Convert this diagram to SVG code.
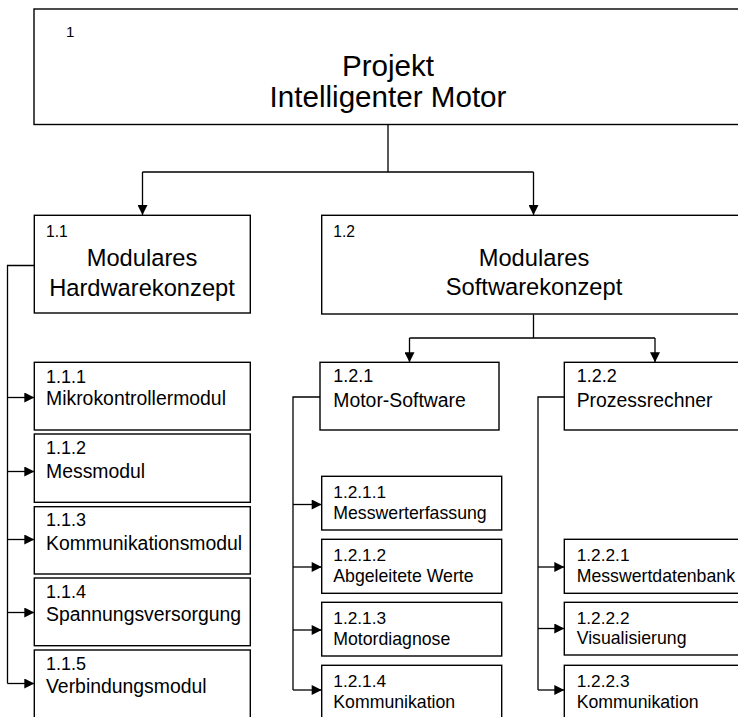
<svg xmlns="http://www.w3.org/2000/svg" width="738" height="717" viewBox="0 0 738 717">
<style>
  .box{fill:#ffffff;stroke:#000000;stroke-width:1.4}
  .ln{fill:none;stroke:#000000;stroke-width:1.3}
  text{font-family:"Liberation Sans",Arial,sans-serif;fill:#000000}
  .t1{font-size:29.6px;text-anchor:middle}
  .n1{font-size:15px}
  .t2{font-size:23.7px;text-anchor:middle}
  .n2{font-size:15.6px}
  .t3{font-size:19.4px}
  .n3{font-size:18px}
  .t4{font-size:17.7px}
  .n4{font-size:17.3px}
</style>
<defs>
  <marker id="arr" viewBox="0 0 10 10" refX="10" refY="5" markerUnits="userSpaceOnUse" markerWidth="11" markerHeight="10" orient="auto">
    <path d="M0,0 L10,5 L0,10 z" fill="#000000"/>
  </marker>
</defs>
<rect width="738" height="717" fill="#ffffff"/>
<g id="connectors">
  <path class="ln" d="M388,124.5 V172 M142.5,172 H533.5"/>
  <path class="ln" d="M142.5,172 V215" marker-end="url(#arr)"/>
  <path class="ln" d="M533.5,172 V215" marker-end="url(#arr)"/>
  <path class="ln" d="M34,265.5 H7.5 V683.5"/>
  <path class="ln" d="M7.5,397.5 H34.3" marker-end="url(#arr)"/>
  <path class="ln" d="M7.5,471.5 H34.3" marker-end="url(#arr)"/>
  <path class="ln" d="M7.5,539.5 H34.3" marker-end="url(#arr)"/>
  <path class="ln" d="M7.5,612.5 H34.3" marker-end="url(#arr)"/>
  <path class="ln" d="M7.5,683.5 H34.3" marker-end="url(#arr)"/>
  <path class="ln" d="M533.5,314.5 V338 M409.5,338 H655"/>
  <path class="ln" d="M409.5,338 V362.3" marker-end="url(#arr)"/>
  <path class="ln" d="M655,338 V362.3" marker-end="url(#arr)"/>
  <path class="ln" d="M320,397 H293 V690"/>
  <path class="ln" d="M293,504.5 H321.7" marker-end="url(#arr)"/>
  <path class="ln" d="M293,567 H321.7" marker-end="url(#arr)"/>
  <path class="ln" d="M293,630 H321.7" marker-end="url(#arr)"/>
  <path class="ln" d="M293,690 H321.7" marker-end="url(#arr)"/>
  <path class="ln" d="M564.3,397 H538 V690"/>
  <path class="ln" d="M538,567 H564.3" marker-end="url(#arr)"/>
  <path class="ln" d="M538,628.5 H564.3" marker-end="url(#arr)"/>
  <path class="ln" d="M538,690 H564.3" marker-end="url(#arr)"/>
</g>
<g id="n1">
  <rect class="box" x="34" y="9" width="708" height="115.5"/>
  <text class="n1" x="66" y="37.3">1</text>
  <text class="t1" x="388" y="76">Projekt</text>
  <text class="t1" x="388" y="106.5">Intelligenter Motor</text>
</g>
<g id="n1_1">
  <rect class="box" x="34.3" y="215.3" width="216" height="97.7"/>
  <text class="n2" x="46" y="237.3">1.1</text>
  <text class="t2" x="142" y="266">Modulares</text>
  <text class="t2" x="142" y="295.5">Hardwarekonzept</text>
</g>
<g id="n1_2">
  <rect class="box" x="321.7" y="215.3" width="424" height="98.7"/>
  <text class="n2" x="333.3" y="236.7">1.2</text>
  <text class="t2" x="534" y="265.5">Modulares</text>
  <text class="t2" x="534" y="295">Softwarekonzept</text>
</g>
<g id="n1_1_1">
  <rect class="box" x="34.3" y="362.3" width="216" height="67.7"/>
  <text class="n3" x="46" y="382.5">1.1.1</text>
  <text class="t3" x="46" y="405.3">Mikrokontrollermodul</text>
</g>
<g id="n1_1_2">
  <rect class="box" x="34.3" y="434" width="216" height="68.3"/>
  <text class="n3" x="46" y="454">1.1.2</text>
  <text class="t3" x="46" y="478">Messmodul</text>
</g>
<g id="n1_1_3">
  <rect class="box" x="34.3" y="506.7" width="216" height="67.3"/>
  <text class="n3" x="46" y="526.3">1.1.3</text>
  <text class="t3" x="46" y="550">Kommunikationsmodul</text>
</g>
<g id="n1_1_4">
  <rect class="box" x="34.3" y="578" width="216" height="67.7"/>
  <text class="n3" x="46" y="597.7">1.1.4</text>
  <text class="t3" x="46" y="621.3">Spannungsversorgung</text>
</g>
<g id="n1_1_5">
  <rect class="box" x="34.3" y="650" width="216" height="69"/>
  <text class="n3" x="46" y="669.7">1.1.5</text>
  <text class="t3" x="46" y="693.3">Verbindungsmodul</text>
</g>
<g id="n1_2_1">
  <rect class="box" x="320" y="362.3" width="179" height="67.7"/>
  <text class="n3" x="333.3" y="381.7">1.2.1</text>
  <text class="t3" x="333.3" y="406.5">Motor-Software</text>
</g>
<g id="n1_2_2">
  <rect class="box" x="564.3" y="362.3" width="182" height="67.7"/>
  <text class="n3" x="576.7" y="381.7">1.2.2</text>
  <text class="t3" x="576.7" y="406.5">Prozessrechner</text>
</g>
<g id="n1_2_1_1">
  <rect class="box" x="321.7" y="476.3" width="180" height="53.7"/>
  <text class="n4" x="333.3" y="497.8">1.2.1.1</text>
  <text class="t4" x="333.3" y="518.5">Messwerterfassung</text>
</g>
<g id="n1_2_1_2">
  <rect class="box" x="321.7" y="539.3" width="180" height="54"/>
  <text class="n4" x="333.3" y="560.8">1.2.1.2</text>
  <text class="t4" x="333.3" y="581.5">Abgeleitete Werte</text>
</g>
<g id="n1_2_1_3">
  <rect class="box" x="321.7" y="602.3" width="180" height="53.7"/>
  <text class="n4" x="333.3" y="623.8">1.2.1.3</text>
  <text class="t4" x="333.3" y="644.5">Motordiagnose</text>
</g>
<g id="n1_2_1_4">
  <rect class="box" x="321.7" y="665.3" width="180" height="56"/>
  <text class="n4" x="333.3" y="686.8">1.2.1.4</text>
  <text class="t4" x="333.3" y="707.5">Kommunikation</text>
</g>
<g id="n1_2_2_1">
  <rect class="box" x="564.3" y="539.3" width="182" height="54"/>
  <text class="n4" x="576.7" y="560.8">1.2.2.1</text>
  <text class="t4" x="576.7" y="581.5">Messwertdatenbank</text>
</g>
<g id="n1_2_2_2">
  <rect class="box" x="564.3" y="602.3" width="182" height="52.7"/>
  <text class="n4" x="576.7" y="623.5">1.2.2.2</text>
  <text class="t4" x="576.7" y="644">Visualisierung</text>
</g>
<g id="n1_2_2_3">
  <rect class="box" x="564.3" y="665.3" width="182" height="56"/>
  <text class="n4" x="576.7" y="686.8">1.2.2.3</text>
  <text class="t4" x="576.7" y="707.5">Kommunikation</text>
</g>
</svg>
